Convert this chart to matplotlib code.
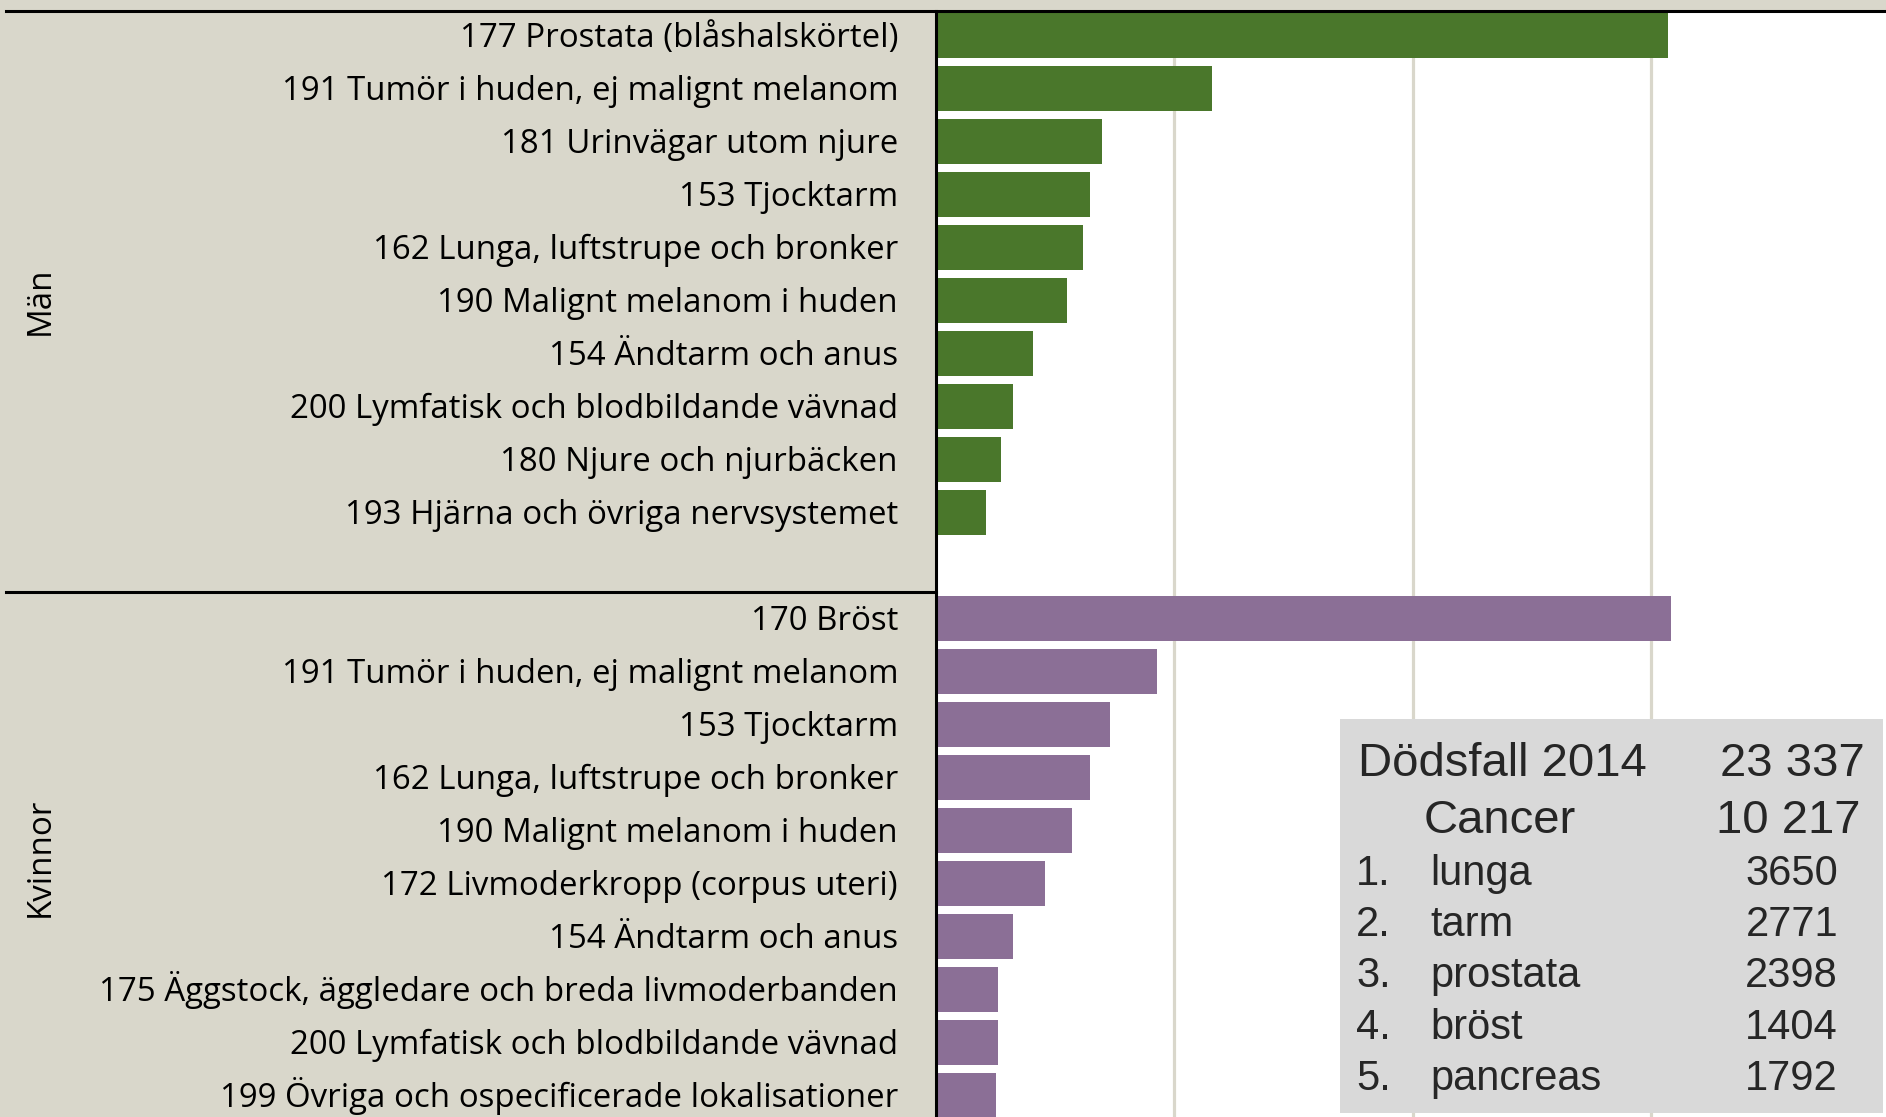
import matplotlib
matplotlib.use("Agg")
import matplotlib.pyplot as plt
import matplotlib.transforms as mtransforms
from matplotlib.lines import Line2D
from matplotlib.patches import Rectangle

# ---------------- data ----------------
men_labels = [
    "177 Prostata (blåshalskörtel)",
    "191 Tumör i huden, ej malignt melanom",
    "181 Urinvägar utom njure",
    "153 Tjocktarm",
    "162 Lunga, luftstrupe och bronker",
    "190 Malignt melanom i huden",
    "154 Ändtarm och anus",
    "200 Lymfatisk och blodbildande vävnad",
    "180 Njure och njurbäcken",
    "193 Hjärna och övriga nervsystemet",
]
men_values = [9210, 3480, 2090, 1940, 1860, 1650, 1230, 980, 830, 640]

women_labels = [
    "170 Bröst",
    "191 Tumör i huden, ej malignt melanom",
    "153 Tjocktarm",
    "162 Lunga, luftstrupe och bronker",
    "190 Malignt melanom i huden",
    "172 Livmoderkropp (corpus uteri)",
    "154 Ändtarm och anus",
    "175 Äggstock, äggledare och breda livmoderbanden",
    "200 Lymfatisk och blodbildande vävnad",
    "199 Övriga och ospecificerade lokalisationer",
]
women_values = [9250, 2790, 2200, 1940, 1720, 1380, 980, 790, 790, 755]

group_names = ["Män", "Kvinnor"]
x_grid = [3000, 6000, 9000]

summary_titles = ["Dödsfall 2014", "Cancer"]
summary_totals = ["23 337", "10 217"]
top_ranks = ["1.", "2.", "3.", "4.", "5."]
top_names = ["lunga", "tarm", "prostata", "bröst", "pancreas"]
top_values = ["3650", "2771", "2398", "1404", "1792"]

# ---------------- layout ----------------
W, H = 1886, 1117
DPI = 100
BEIGE = "#D9D7CB"
GREEN = "#4A772B"
PURPLE = "#8B6F96"
TXT = "#262626"
LABEL_FAMILY = "Open Sans"

def fx(x):
    return x / W

def fy(y):
    return 1 - y / H

fig = plt.figure(figsize=(W / DPI, H / DPI), dpi=DPI, facecolor=BEIGE)
renderer = fig.canvas.get_renderer()

# fit label font size so the longest label spans ~797 px (as in the reference)
probe = fig.text(0, 0, max(men_labels + women_labels, key=len), fontsize=22, family=LABEL_FAMILY)
probe_w = probe.get_window_extent(renderer).width
probe.remove()
label_fs = 22 * 797.0 / probe_w

slot0, pitch = 35.5, 53.0
top_px = 10.5
ax = fig.add_axes([fx(935.5), 0, 954 / W, (H - top_px) / H])
ax.set_facecolor("white")
ax.set_xlim(0, 12000)
ax.set_ylim((H - slot0) / pitch, (top_px - slot0) / pitch)

men_slots = list(range(len(men_values)))
women_start = len(men_values) + 1
women_slots = [women_start + i for i in range(len(women_values))]

ax.barh(men_slots, men_values, height=0.86, color=GREEN, zorder=2)
ax.barh(women_slots, women_values, height=0.86, color=PURPLE, zorder=2)

ax.set_xticks(x_grid)
ax.grid(axis="x", color=BEIGE, lw=2.3)
ax.set_axisbelow(True)
ax.tick_params(left=False, bottom=False, labelleft=False, labelbottom=False)
ax.set_yticks([])
for s in ["top", "right", "bottom"]:
    ax.spines[s].set_visible(False)
ax.spines["left"].set_color("black")
ax.spines["left"].set_linewidth(2.2)
ax.spines["left"].set_zorder(5)

# category labels (cap middle aligned with the bar centre)
blend = mtransforms.blended_transform_factory(fig.transFigure, ax.transData)
cap_px = label_fs * DPI / 72 * 0.714
off = mtransforms.ScaledTranslation(0, -cap_px / 2 / DPI, fig.dpi_scale_trans)
for slots, labels in [(men_slots, men_labels), (women_slots, women_labels)]:
    for s, lab in zip(slots, labels):
        fig.text(fx(898), s, lab, transform=blend + off, ha="right", va="baseline",
                 fontsize=label_fs, family=LABEL_FAMILY, color="black")

# group labels
men_center = (men_slots[0] + women_start - 1) / 2
women_center = (women_slots[0] + women_slots[-1]) / 2
for c, name in zip([men_center, women_center], group_names):
    fig.text(fx(40), c, name, transform=blend, rotation=90, ha="center", va="center",
             fontsize=label_fs, family=LABEL_FAMILY, color="black")

# lines
fig.add_artist(Line2D([fx(6), 1], [fy(top_px), fy(top_px)], color="black", lw=2.2, zorder=6))
sep_y = ax.transData.transform((0, women_start - 0.5))[1] / H
fig.add_artist(Line2D([fx(6), fx(935.5)], [sep_y, sep_y], color="black", lw=2.2, zorder=6))

# summary box
fig.add_artist(Rectangle((fx(1340), fy(1113)), (1883 - 1340) / W, (1113 - 719) / H,
                         transform=fig.transFigure, facecolor="#D9D9D9", edgecolor="none", zorder=7))
fam = "Liberation Sans"
head_base = [776, 833]
head_left = [1358, 1424]
head_right = [1865, 1860]
for t, v, b, l, r in zip(summary_titles, summary_totals, head_base, head_left, head_right):
    fig.text(fx(l), fy(b), t, ha="left", va="baseline", fontsize=34, family=fam, color=TXT, zorder=8)
    fig.text(fx(r), fy(b), v, ha="right", va="baseline", fontsize=34, family=fam, color=TXT, zorder=8)
for i, (rk, nm, v) in enumerate(zip(top_ranks, top_names, top_values)):
    b = 885 + 51.2 * i
    fig.text(fx(1356), fy(b), rk, ha="left", va="baseline", fontsize=30, family=fam, color=TXT, zorder=8)
    fig.text(fx(1430), fy(b), nm, ha="left", va="baseline", fontsize=30, family=fam, color=TXT, zorder=8)
    fig.text(fx(1838), fy(b), v, ha="right", va="baseline", fontsize=30, family=fam, color=TXT, zorder=8)

fig.savefig("out.png", dpi=DPI, facecolor=BEIGE)
